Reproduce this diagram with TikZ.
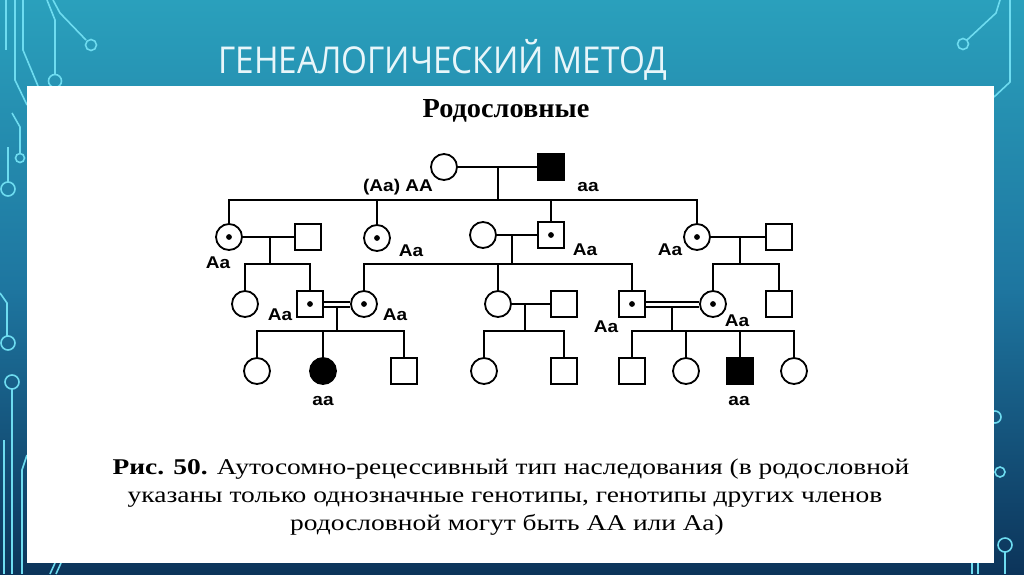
\documentclass[tikz,border=0pt]{standalone}
\usepackage{fontspec}
\setmainfont{Liberation Serif}
\newfontfamily\titlefont[FakeStretch=0.9]{Open Sans}
\newfontfamily\labfont[FakeStretch=1.12]{Liberation Sans}
\newfontfamily\capfont[FakeStretch=1.22]{Liberation Serif}
\newfontfamily\subfont[FakeStretch=1.03]{Liberation Serif}
\definecolor{bgtop}{RGB}{42,160,188}
\definecolor{bgmid}{RGB}{30,118,160}
\definecolor{bgbot}{RGB}{12,52,90}
\definecolor{circuit}{RGB}{110,220,240}
\definecolor{titlecol}{RGB}{232,246,250}
\tikzset{
  fem/.style={circle,draw=black,line width=1.8pt,minimum size=26pt,inner sep=0pt,fill=white},
  mal/.style={rectangle,draw=black,line width=2pt,minimum size=26pt,inner sep=0pt,fill=white},
  carrier/.style={path picture={\fill[black] (path picture bounding box.center) circle (2.9pt);}},
  affected/.style={fill=black},
  lbl/.style={font=\labfont\bfseries\fontsize{17}{18}\selectfont,inner sep=0pt},
  link/.style={draw=black,line width=2pt},
  dbl/.style={draw=black,line width=2pt},
  circ/.style={draw=circuit,line width=1.6pt},
  captxt/.style={anchor=base,inner sep=0pt,font=\capfont\fontsize{22.5}{24}\selectfont},
}
\begin{document}
\begin{tikzpicture}[x=1pt,y=-1pt]
\useasboundingbox (0,0) rectangle (1024,574);
% background
\shade[top color=bgtop,bottom color=bgbot,middle color=bgmid] (0,0) rectangle (1024,574);
% circuit decorations left
\draw[circ] (15,0) -- (15,80) -- (27,105);
\draw[circ] (23,0) -- (23,50) -- (38,86);
\draw[circ] (47,0) -- (55,20) -- (55,74);
\draw[circ] (55,81) circle (6.5);
\draw[circ] (53,0) -- (60,13) -- (86,40);
\draw[circ] (91,45) circle (5.5);
\draw[circ] (6,0) -- (6,50);
\draw[circ] (8,147) -- (8,182);
\draw[circ] (8,189) circle (7);
\draw[circ] (12,113) -- (20,127) -- (20,153);
\draw[circ] (20,158) circle (4.5);
\draw[circ] (0,293) -- (7,303) -- (7,336);
\draw[circ] (8,343) circle (7);
\draw[circ] (12,382) circle (7);
\draw[circ] (12,389) -- (12,574);
\draw[circ] (4,440) -- (4,574);
\draw[circ] (22,470) -- (22,574);
\draw[circ] (22,470) -- (27,455);
\draw[circ] (50,574) -- (55,563);
\draw[circ] (56,574) -- (61,563);
% circuit decorations right
\draw[circ] (1000,0) -- (996,13) -- (967,40);
\draw[circ] (963,44) circle (5.5);
\draw[circ] (1010,0) -- (1010,82) -- (994,97);
\draw[circ] (995,417) circle (6);
\draw[circ] (1000,472) circle (5);
\draw[circ] (1005,545) circle (7);
\draw[circ] (1005,552) -- (1005,574);
\draw[circ] (972,563) -- (972,574);
\draw[circ] (978,563) -- (978,574);
% white panel
\fill[white] (27,86) rectangle (994,563);
% title
\node[anchor=base west,inner sep=0pt,text=titlecol,font=\titlefont\fontsize{37}{40}\selectfont] (title) at (218,73) {ГЕНЕАЛОГИЧЕСКИЙ МЕТОД};
\node[anchor=base,inner sep=0pt,font=\subfont\bfseries\fontsize{27.5}{29}\selectfont] (sub) at (506,117) {Родословные};
% Generation I
\node[fem] (I1) at (444,167) {};
\node[mal,affected] (I2) at (551,167) {};
\coordinate (j1) at (498,167);
\coordinate (s1) at (498,200);
% Generation II
\node[fem,carrier] (II1) at (229,237) {};
\node[mal] (II1s) at (308,237) {};
\node[fem,carrier] (II2) at (377,238) {};
\node[fem] (II3) at (483,235) {};
\node[mal,carrier] (II4) at (551,235) {};
\node[fem,carrier] (II5) at (697,237) {};
\node[mal] (II5s) at (779,237) {};
\coordinate (j2a) at (270,237);
\coordinate (s2a) at (270,264);
\coordinate (j2b) at (512,235);
\coordinate (s2b) at (512,264);
\coordinate (j2c) at (740,237);
\coordinate (s2c) at (740,264);
% Generation III
\node[fem] (III1) at (245,304) {};
\node[mal,carrier] (III2) at (310,304) {};
\node[fem,carrier] (III3) at (364,304) {};
\node[fem] (III4) at (498,304) {};
\node[mal] (III4s) at (564,304) {};
\node[mal,carrier] (III5) at (632,304) {};
\node[fem,carrier] (III6) at (713,304) {};
\node[mal] (III7) at (779,304) {};
\coordinate (j3a) at (337,307);
\coordinate (s3a) at (337,331);
\coordinate (j3b) at (525,304);
\coordinate (s3b) at (525,331);
\coordinate (j3c) at (672,307);
\coordinate (s3c) at (672,331);
% Generation IV
\node[fem] (IV1) at (257,371) {};
\node[fem,affected] (IV2) at (323,371) {};
\node[mal] (IV3) at (404,371) {};
\node[fem] (IV4) at (484,371) {};
\node[mal] (IV5) at (564,371) {};
\node[mal] (IV6) at (632,371) {};
\node[fem] (IV7) at (686,371) {};
\node[mal,affected] (IV8) at (740,371) {};
\node[fem] (IV9) at (794,371) {};
% connectors generation I
\draw[link] (I1) -- (I2);
\draw[link] (j1) -- (s1);
\draw[link] (II1.north) |- (s1);
\draw[link] (II5.north) |- (s1);
\draw[link] (II2.north) -- (II2.north |- s1);
\draw[link] (II4.north) -- (II4.north |- s1);
% connectors generation II
\draw[link] (II1) -- (II1s);
\draw[link] (j2a) -- (s2a);
\draw[link] (III1.north) |- (s2a);
\draw[link] (III2.north) |- (s2a);
\draw[link] (II3) -- (II4);
\draw[link] (j2b) -- (s2b);
\draw[link] (III3.north) |- (s2b);
\draw[link] (III5.north) |- (s2b);
\draw[link] (III4.north) -- (III4.north |- s2b);
\draw[link] (II5) -- (II5s);
\draw[link] (j2c) -- (s2c);
\draw[link] (III6.north) |- (s2c);
\draw[link] (III7.north) |- (s2c);
% connectors generation III
\draw[dbl] ([yshift=2pt]III2.east) -- ([yshift=2pt]III3.west);
\draw[dbl] ([yshift=-3pt]III2.east) -- ([yshift=-3pt]III3.west);
\draw[link] (j3a) -- (s3a);
\draw[link] (IV1.north) |- (s3a);
\draw[link] (IV3.north) |- (s3a);
\draw[link] (IV2.north) -- (IV2.north |- s3a);
\draw[link] (III4) -- (III4s);
\draw[link] (j3b) -- (s3b);
\draw[link] (IV4.north) |- (s3b);
\draw[link] (IV5.north) |- (s3b);
\draw[dbl] ([yshift=2pt]III5.east) -- ([yshift=2pt]III6.west);
\draw[dbl] ([yshift=-3pt]III5.east) -- ([yshift=-3pt]III6.west);
\draw[link] (j3c) -- (s3c);
\draw[link] (IV6.north) |- (s3c);
\draw[link] (IV9.north) |- (s3c);
\draw[link] (IV7.north) -- (IV7.north |- s3c);
\draw[link] (IV8.north) -- (IV8.north |- s3c);
% genotype labels
\node[lbl] (g1) at (398,187) {(Aa) AA};
\node[lbl] (g2) at (588,187) {aa};
\node[lbl] (g3) at (218,263) {Aa};
\node[lbl] (g4) at (411,251) {Aa};
\node[lbl] (g5) at (585,250) {Aa};
\node[lbl] (g6) at (670,250) {Aa};
\node[lbl] (g7) at (280,315) {Aa};
\node[lbl] (g8) at (395,315) {Aa};
\node[lbl] (g9) at (606,327) {Aa};
\node[lbl] (g10) at (737,321) {Aa};
\node[lbl] (g11) at (323,401) {aa};
\node[lbl] (g12) at (739,401) {aa};
% caption
\node[captxt] (cap1) at (511,474) {\textbf{Рис. 50.} Аутосомно-рецессивный тип наследования (в родословной};
\node[captxt] (cap2) at (505,502) {указаны только однозначные генотипы, генотипы других членов};
\node[captxt] (cap3) at (507,530) {родословной могут быть АА или Аа)};
\end{tikzpicture}
\end{document}
